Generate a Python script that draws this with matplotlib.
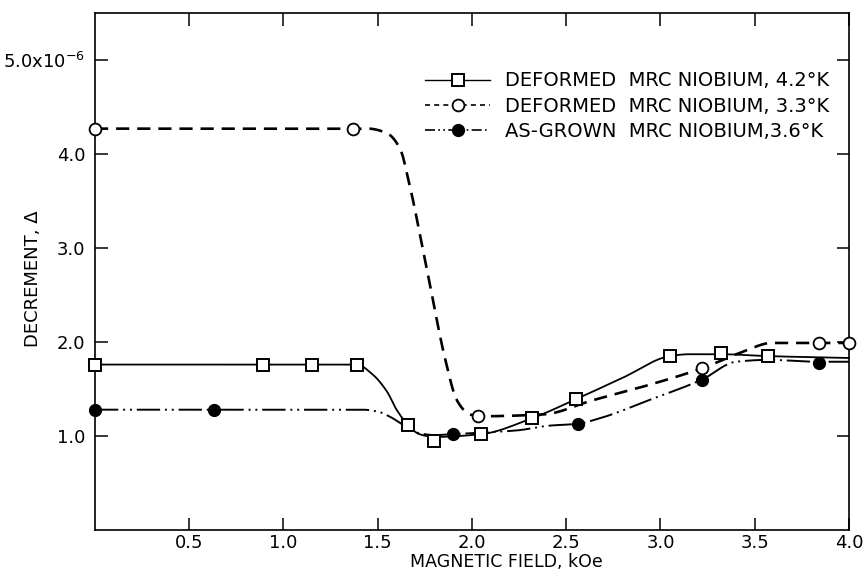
import numpy as np
import matplotlib
matplotlib.use("Agg")
import matplotlib.pyplot as plt
from matplotlib.lines import Line2D

# measured points (field in kOe, decrement in units of 1e-6)
sq_x = [0.0, 0.89, 1.15, 1.39, 1.66, 1.80, 2.05, 2.32, 2.55, 3.05, 3.32, 3.57]
sq_y = [1.76, 1.76, 1.76, 1.76, 1.12, 0.95, 1.02, 1.19, 1.39, 1.85, 1.88, 1.85]

oc_x = [0.0, 1.37, 2.03, 3.22, 3.84, 4.0]
oc_y = [4.27, 4.27, 1.21, 1.72, 1.99, 1.99]

fc_x = [0.0, 0.63, 1.90, 2.56, 3.22, 3.84]
fc_y = [1.28, 1.28, 1.02, 1.13, 1.60, 1.78]

# hand drawn curves
sq_cx = [0.0, 1.39, 1.47, 1.55, 1.60, 1.66, 1.72, 1.80, 2.05, 2.32, 2.55, 2.80, 3.05, 3.15, 3.32, 3.57, 4.0]
sq_cy = [1.76, 1.76, 1.66, 1.47, 1.28, 1.12, 1.02, 0.99, 1.02, 1.19, 1.39, 1.62, 1.85, 1.87, 1.87, 1.85, 1.83]

oc_cx = [0.0, 1.45, 1.55, 1.62, 1.66, 1.76, 1.86, 1.92, 1.98, 2.03, 2.38, 2.64, 2.95, 3.22, 3.43, 3.59, 4.0]
oc_cy = [4.27, 4.27, 4.22, 4.05, 3.75, 2.78, 1.80, 1.38, 1.24, 1.21, 1.23, 1.38, 1.55, 1.72, 1.89, 1.99, 1.99]

fc_cx = [0.0, 1.42, 1.50, 1.56, 1.65, 1.72, 1.80, 1.90, 2.24, 2.41, 2.56, 2.68, 2.95, 3.22, 3.40, 3.57, 3.84, 4.0]
fc_cy = [1.28, 1.28, 1.26, 1.21, 1.10, 1.03, 1.01, 1.02, 1.06, 1.11, 1.13, 1.19, 1.39, 1.60, 1.79, 1.81, 1.79, 1.79]

labels = ["DEFORMED  MRC NIOBIUM, 4.2°K",
          "DEFORMED  MRC NIOBIUM, 3.3°K",
          "AS-GROWN  MRC NIOBIUM,3.6°K"]

xticks = [0.5, 1.0, 1.5, 2.0, 2.5, 3.0, 3.5, 4.0]
yticks = [1.0, 2.0, 3.0, 4.0, 5.0]
ytick_labels = ["1.0", "2.0", "3.0", "4.0", "5.0x10$^{-6}$"]


def smooth(x, y, n=400):
    # monotone cubic (pchip) just for drawing the curve
    x = np.asarray(x, float)
    y = np.asarray(y, float)
    h = np.diff(x)
    d = np.diff(y) / h
    m = np.zeros(len(x))
    m[0] = d[0]
    m[-1] = d[-1]
    for k in range(1, len(x) - 1):
        if d[k-1] * d[k] <= 0:
            m[k] = 0.0
        else:
            w1 = 2*h[k] + h[k-1]
            w2 = h[k] + 2*h[k-1]
            m[k] = (w1 + w2) / (w1/d[k-1] + w2/d[k])
    xs = np.linspace(x[0], x[-1], n)
    i = np.clip(np.searchsorted(x, xs) - 1, 0, len(x) - 2)
    t = (xs - x[i]) / h[i]
    h00 = 2*t**3 - 3*t**2 + 1
    h10 = t**3 - 2*t**2 + t
    h01 = -2*t**3 + 3*t**2
    h11 = t**3 - t**2
    ys = h00*y[i] + h10*h[i]*m[i] + h01*y[i+1] + h11*h[i]*m[i+1]
    return xs, ys


fig = plt.figure(figsize=(8.65, 5.71), dpi=100)
ax = fig.add_axes([0.1098, 0.0718, 0.8717, 0.9054])

dash = (0, (5, 3))
dashdot = (0, (12, 2.5, 1, 2.5, 1, 2.5))

xs, ys = smooth(sq_cx, sq_cy)
ax.plot(xs, ys, color="black", lw=1.3, ls="-", clip_on=False)
xs, ys = smooth(oc_cx, oc_cy)
ax.plot(xs, ys, color="black", lw=1.9, ls=dash, clip_on=False)
xs, ys = smooth(fc_cx, fc_cy)
ax.plot(xs, ys, color="black", lw=1.4, ls=dashdot, clip_on=False)

ax.plot(sq_x, sq_y, ls="none", marker="s", ms=9, mfc="white", mec="black", mew=1.4, clip_on=False, zorder=5)
ax.plot(oc_x, oc_y, ls="none", marker="o", ms=8.5, mfc="white", mec="black", mew=1.3, clip_on=False, zorder=5)
ax.plot(fc_x, fc_y, ls="none", marker="o", ms=8.5, mfc="black", mec="black", mew=1.0, clip_on=False, zorder=5)

handles = [
    Line2D([], [], color="black", lw=1.0, ls="-", marker="s", ms=9, mfc="white", mec="black", mew=1.4),
    Line2D([], [], color="black", lw=1.2, ls=(0, (3, 2.5)), marker="o", ms=8.5, mfc="white", mec="black", mew=1.3),
    Line2D([], [], color="black", lw=1.2, ls=(0, (6, 2, 1, 2, 1, 2)), marker="o", ms=8.5, mfc="black", mec="black"),
]
ax.legend(handles, labels, loc="upper left", bbox_to_anchor=(0.4377, 0.887),
          frameon=False, fontsize=14, handlelength=3.35, handletextpad=0.75,
          labelspacing=0.32, borderpad=0, borderaxespad=0, numpoints=1)

ax.set_xlim(0, 4.0)
ax.set_ylim(0, 5.5)
ax.set_xticks(xticks)
ax.set_xticklabels([f"{v:.1f}" for v in xticks])
ax.set_yticks(yticks)
ax.set_yticklabels(ytick_labels)
ax.tick_params(direction="in", length=9, width=1.1, top=True, right=True, labelsize=13)
ax.tick_params(axis="x", pad=3)
ax.tick_params(axis="y", pad=7)
for s in ax.spines.values():
    s.set_linewidth(1.2)

ax.set_xlabel("MAGNETIC FIELD, kOe", fontsize=12.5)
ax.xaxis.set_label_coords(0.546, -0.044)
ax.set_ylabel("DECREMENT, Δ", fontsize=13)
ax.yaxis.set_label_coords(-0.070, 0.487)

fig.savefig("out.png", dpi=100)
